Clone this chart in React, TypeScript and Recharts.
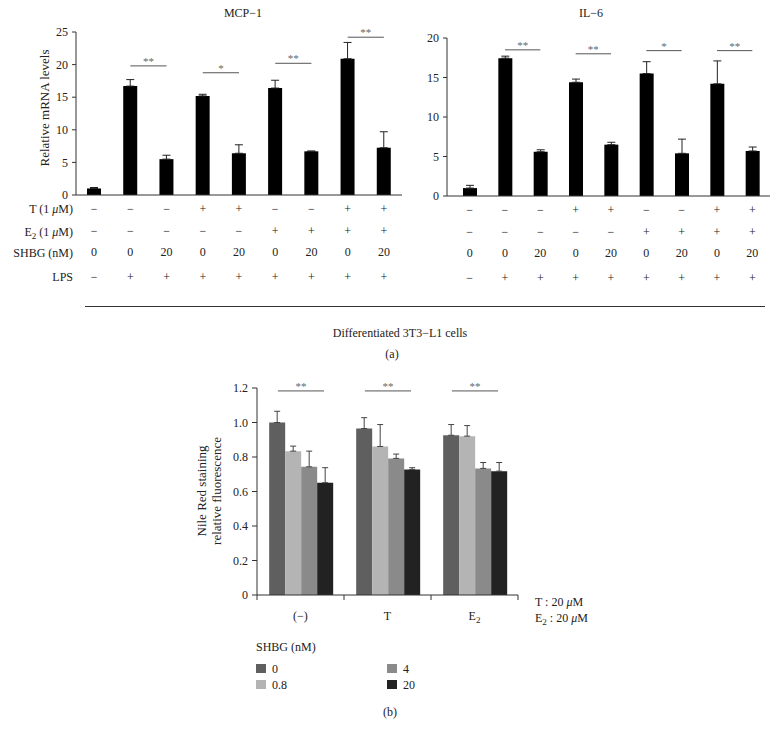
import React from "react";
import { Bar, BarChart, ErrorBar, ReferenceLine, XAxis, YAxis } from "recharts";

const FONT = '"Liberation Serif", "Times New Roman", serif';

// panel (a): nine treatment conditions
const conditions = ["1", "2", "3", "4", "5", "6", "7", "8", "9"];
const tRow = ["−", "−", "−", "+", "+", "−", "−", "+", "+"];
const e2Row = ["−", "−", "−", "−", "−", "+", "+", "+", "+"];
const shbgRow = ["0", "0", "20", "0", "20", "0", "20", "0", "20"];
const lpsRow = ["−", "+", "+", "+", "+", "+", "+", "+", "+"];

const mcp1Mean = [1.0, 16.7, 5.5, 15.2, 6.4, 16.4, 6.7, 20.9, 7.25];
const mcp1Err = [0.15, 1.0, 0.6, 0.25, 1.3, 1.2, 0.05, 2.5, 2.45];
const il6Mean = [1.0, 17.45, 5.6, 14.4, 6.5, 15.5, 5.4, 14.2, 5.7];
const il6Err = [0.35, 0.25, 0.25, 0.4, 0.3, 1.5, 1.8, 2.9, 0.5];

const sigPairs = [[1, 2], [3, 4], [5, 6], [7, 8]];
const mcp1SigY = [19.8, 18.75, 20.2, 24.2];
const mcp1SigText = ["**", "*", "**", "**"];
const il6SigY = [18.5, 18.0, 18.4, 18.4];
const il6SigText = ["**", "**", "*", "**"];

// panel (b): Nile Red
const groups = ["(−)", "T", "E2"];
const shbgLevels = ["0", "0.8", "4", "20"];
const levelColors = ["#5f5f5f", "#b4b4b4", "#8a8a8a", "#222222"];
const nile0 = [1.0, 0.965, 0.926];
const nile08 = [0.834, 0.861, 0.921];
const nile4 = [0.743, 0.792, 0.734];
const nile20 = [0.651, 0.728, 0.718];
const nileErr0 = [0.065, 0.063, 0.062];
const nileErr08 = [0.029, 0.127, 0.061];
const nileErr4 = [0.091, 0.025, 0.034];
const nileErr20 = [0.087, 0.01, 0.05];
const nileSigY = 1.183;

const mcp1Data = conditions.map((c, i) => ({ name: c, v: mcp1Mean[i], e: [0, mcp1Err[i]] }));
const il6Data = conditions.map((c, i) => ({ name: c, v: il6Mean[i], e: [0, il6Err[i]] }));
const nileSeries = [nile0, nile08, nile4, nile20];
const nileErrs = [nileErr0, nileErr08, nileErr4, nileErr20];
const nileData = groups.map((g, gi) => {
  const row: any = { name: g, pos: gi + 0.5 };
  shbgLevels.forEach((_, li) => {
    row["s" + li] = nileSeries[li][gi];
    row["e" + li] = [0, nileErrs[li][gi]];
  });
  return row;
});

const tickStyle = { fill: "#222", fontSize: 12 };

function TableTick(props: any) {
  const { x, y, index } = props;
  const rows = [tRow, e2Row, shbgRow, lpsRow];
  const dys = [18, 40, 61, 86];
  return (
    <g>
      {rows.map((r, i) => (
        <text key={i} x={x} y={y + dys[i]} textAnchor="middle" fontSize={12} fill="#222">
          {r[index]}
        </text>
      ))}
    </g>
  );
}

function GroupTick(props: any) {
  const { x, y, payload } = props;
  const v = String(payload.value);
  return (
    <text x={x} y={y + 24} textAnchor="middle" fontSize={12} fill="#222">
      {v === "E2" ? (
        <>
          E<tspan dy={3} fontSize={9}>2</tspan>
        </>
      ) : (
        v
      )}
    </text>
  );
}

// small downward tick at each group boundary
function BoundaryTick(props: any) {
  const { x, y } = props;
  return <line x1={x} x2={x} y1={y} y2={y + 5} stroke="#333" strokeWidth={1} />;
}

function sigLines(yVals: number[], texts: string[]) {
  return sigPairs.map(([a, b], i) => (
    <ReferenceLine
      key={i}
      segment={[
        { x: conditions[a], y: yVals[i] },
        { x: conditions[b], y: yVals[i] },
      ]}
      stroke="#555"
      label={{ value: texts[i], position: "top", fill: "#666", fontSize: 11, offset: 1 }}
    />
  ));
}

function TopChart({ data, ticks, sigY, sigText, width, height, margin, yWidth, padLeft }: any) {
  return (
    <BarChart width={width} height={height} data={data} margin={margin} barSize={14}>
      <XAxis
        dataKey="name"
        height={90}
        interval={0}
        tickLine={false}
        tickSize={0}
        tickMargin={0}
        stroke="#333"
        padding={{ left: padLeft, right: 0 }}
        tick={<TableTick />}
      />
      <YAxis
        width={yWidth}
        domain={[0, ticks[ticks.length - 1]]}
        ticks={ticks}
        tickSize={4}
        tickMargin={4}
        stroke="#333"
        tick={tickStyle}
      />
      <Bar dataKey="v" fill="#000" isAnimationActive={false}>
        <ErrorBar dataKey="e" width={4} stroke="#222" strokeWidth={1} />
      </Bar>
      {sigLines(sigY, sigText)}
    </BarChart>
  );
}

export default function App() {
  return (
    <div
      style={{
        position: "absolute",
        left: 0,
        top: 0,
        width: 784,
        height: 738,
        background: "#fff",
        fontFamily: FONT,
      }}
    >
      <div style={{ position: "absolute", left: 0, top: 0 }}>
        <TopChart
          data={mcp1Data}
          ticks={[0, 5, 10, 15, 20, 25]}
          sigY={mcp1SigY}
          sigText={mcp1SigText}
          width={410}
          height={285}
          margin={{ top: 32, right: 8, bottom: 0, left: 0 }}
          yWidth={76}
          padLeft={0}
        />
      </div>
      <div style={{ position: "absolute", left: 380, top: 0 }}>
        <TopChart
          data={il6Data}
          ticks={[0, 5, 10, 15, 20]}
          sigY={il6SigY}
          sigText={il6SigText}
          width={400}
          height={286}
          margin={{ top: 38, right: 10, bottom: 0, left: 0 }}
          yWidth={67}
          padLeft={5}
        />
      </div>

      <div style={{ position: "absolute", left: 180, top: 370 }}>
        <BarChart
          width={345}
          height={255}
          data={nileData}
          margin={{ top: 18, right: 7, bottom: 0, left: 0 }}
          barGap={0}
          barCategoryGap="14%"
        >
          <XAxis
            xAxisId="b"
            dataKey="name"
            height={29}
            axisLine={false}
            tickLine={false}
            tickSize={0}
            tickMargin={0}
            interval={0}
            tick={<GroupTick />}
          />
          <XAxis
            xAxisId="a"
            dataKey="pos"
            type="number"
            domain={[0, 3]}
            ticks={[0, 1, 2, 3]}
            allowDataOverflow
            interval={0}
            height={1}
            tickLine={false}
            tickSize={0}
            tickMargin={0}
            tick={<BoundaryTick />}
            stroke="#333"
          />
          <YAxis
            width={77}
            domain={[0, 1.2]}
            ticks={[0, 0.2, 0.4, 0.6, 0.8, 1.0, 1.2]}
            tickFormatter={(v: number) => (v === 0 ? "0" : v.toFixed(1))}
            tickSize={5}
            tickMargin={4}
            stroke="#333"
            tick={tickStyle}
          />
          {shbgLevels.map((lv, li) => (
            <Bar key={lv} xAxisId="b" dataKey={"s" + li} fill={levelColors[li]} isAnimationActive={false}>
              <ErrorBar dataKey={"e" + li} width={3} stroke="#444" strokeWidth={1} />
            </Bar>
          ))}
          {groups.map((g, gi) => (
            <ReferenceLine
              key={g}
              xAxisId="a"
              segment={[
                { x: gi + 0.24, y: nileSigY },
                { x: gi + 0.77, y: nileSigY },
              ]}
              stroke="#555"
              label={{ value: "**", position: "top", fill: "#666", fontSize: 11, offset: 1 }}
            />
          ))}
        </BarChart>
      </div>

      <svg
        width={784}
        height={738}
        style={{ position: "absolute", left: 0, top: 0, pointerEvents: "none" }}
        fontFamily={FONT}
        fontSize={12}
        fill="#222"
      >
        <text x={243} y={17} textAnchor="middle">MCP−1</text>
        <text x={591} y={17} textAnchor="middle">IL−6</text>
        <text x={49} y={108} textAnchor="middle" fontSize={13} transform="rotate(-90, 49, 108)">
          Relative mRNA levels
        </text>

        <text x={73} y={213} textAnchor="end">
          T (1 <tspan fontStyle="italic">μ</tspan>M)
        </text>
        <text x={73} y={236} textAnchor="end">
          E<tspan dy={3} fontSize={9}>2</tspan>
          <tspan dy={-3}> (1 </tspan>
          <tspan fontStyle="italic">μ</tspan>M)
        </text>
        <text x={73} y={257} textAnchor="end">SHBG (nM)</text>
        <text x={73} y={281} textAnchor="end">LPS</text>

        <line x1={85} x2={765} y1={306.5} y2={306.5} stroke="#333" strokeWidth={1} />
        <text x={400} y={337} textAnchor="middle">Differentiated 3T3−L1 cells</text>
        <text x={392} y={358} textAnchor="middle">(a)</text>

        <text x={206} y={491} textAnchor="middle" fontSize={13} transform="rotate(-90, 206, 491)">
          Nile Red staining
        </text>
        <text x={221} y={491} textAnchor="middle" fontSize={13} transform="rotate(-90, 221, 491)">
          relative fluorescence
        </text>

        <text x={535} y={606}>
          T : 20 <tspan fontStyle="italic">μ</tspan>M
        </text>
        <text x={535} y={622}>
          E<tspan dy={3} fontSize={9}>2</tspan>
          <tspan dy={-3}> : 20 </tspan>
          <tspan fontStyle="italic">μ</tspan>M
        </text>

        <text x={256} y={651}>SHBG (nM)</text>
        {shbgLevels.map((lv, li) => {
          const col = li < 2 ? 0 : 1;
          const row = li % 2;
          const sx = col === 0 ? 256 : 387;
          const sy = 664 + row * 16;
          return (
            <g key={lv}>
              <rect x={sx} y={sy} width={10} height={9} fill={levelColors[li]} />
              <text x={sx + 16} y={sy + 9}>{lv}</text>
            </g>
          );
        })}
        <text x={390} y={716} textAnchor="middle">(b)</text>
      </svg>
    </div>
  );
}
